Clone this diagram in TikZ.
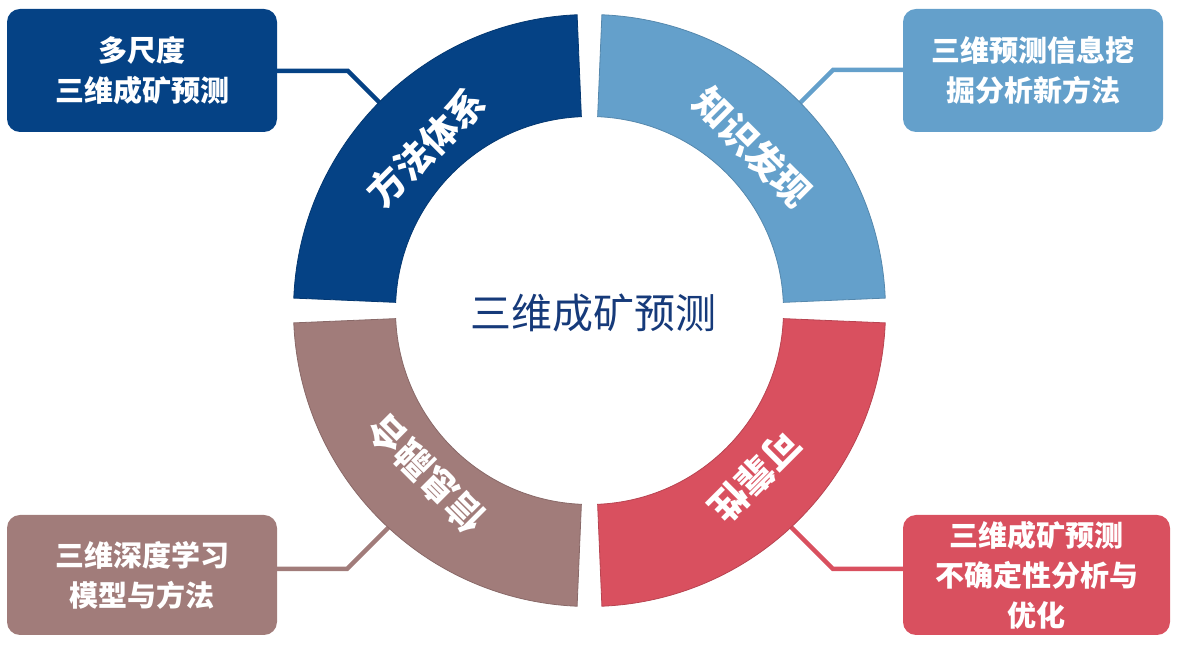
\documentclass[tikz,border=0pt]{standalone}
\usepackage{fontspec}
\newfontfamily\cjk{Noto Sans CJK SC}
\definecolor{cA}{RGB}{5,66,133}
\definecolor{cB}{RGB}{100,160,203}
\definecolor{cC}{RGB}{217,80,95}
\definecolor{cD}{RGB}{161,124,122}
\definecolor{ctitle}{RGB}{22,58,122}
\begin{document}
\begin{tikzpicture}[x=1pt,y=1pt,
  box/.style={rounded corners=13pt, inner sep=0pt, align=center, text=white,
    font=\cjk\bfseries\fontsize{29}{40}\selectfont},
  link/.style={line width=4.5pt, line join=miter},
  segtext/.style={text=white, font=\cjk\bfseries\fontsize{37}{40}\selectfont, inner sep=0pt},
  seg/.style={line width=0.8pt}]
\useasboundingbox (0,0) rectangle (1181,647);
\coordinate (C) at (589.5,336.5);

% boxes
\node[box, fill=cA, minimum width=270pt, minimum height=123pt] (tl) at (142,576.5) {多尺度\\三维成矿预测};
\node[box, fill=cB, minimum width=260pt, minimum height=123pt] (tr) at (1033,576.5) {三维预测信息挖\\掘分析新方法};
\node[box, fill=cD, minimum width=270pt, minimum height=120pt] (bl) at (142,72) {三维深度学习\\模型与方法};
\node[box, fill=cC, minimum width=267pt, minimum height=120pt] (br) at (1036.5,72) {三维成矿预测\\不确定性分析与\\优化};

% connector bends and ends
\coordinate (tlk) at (348,576);
\coordinate (tle) at (393,531);
\coordinate (trk) at (833,577);
\coordinate (tre) at (788,532);
\coordinate (blk) at (347,78);
\coordinate (ble) at (392,123);
\coordinate (brk) at (833,78);
\coordinate (bre) at (788,123);

\draw[link, cA] (tlk -| tl.east) -- (tlk) -- (tle);
\draw[link, cB] (trk -| tr.west) -- (trk) -- (tre);
\draw[link, cD] (blk -| bl.east) -- (blk) -- (ble);
\draw[link, cC] (brk -| br.west) -- (brk) -- (bre);

% ring segments
\begin{scope}[shift={(C)}]
\filldraw[seg, fill=cA, draw=cA!85!black] (92.4:296) arc[start angle=92.4, end angle=177.6, radius=296]
  -- (177.6:194) arc[start angle=177.6, end angle=92.4, radius=194] -- cycle;
\filldraw[seg, fill=cB, draw=cB!85!black] (2.4:296) arc[start angle=2.4, end angle=87.6, radius=296]
  -- (87.6:194) arc[start angle=87.6, end angle=2.4, radius=194] -- cycle;
\filldraw[seg, fill=cC, draw=cC!85!black] (-87.6:296) arc[start angle=-87.6, end angle=-2.4, radius=296]
  -- (-2.4:194) arc[start angle=-2.4, end angle=-87.6, radius=194] -- cycle;
\filldraw[seg, fill=cD, draw=cD!85!black] (182.4:296) arc[start angle=182.4, end angle=267.6, radius=296]
  -- (267.6:194) arc[start angle=267.6, end angle=182.4, radius=194] -- cycle;

\node[segtext, rotate=45] (sA) at (135:231) {方法体系};
\node[segtext, rotate=-45] (sB) at (45:231) {知识发现};
\node[segtext, rotate=-135] (sC) at (-45:235) {可靠性};
\node[segtext, rotate=135] (sD) at (225:231) {信息融合};
\end{scope}

\node[text=ctitle, font=\cjk\fontsize{41}{44}\selectfont, inner sep=0pt] (title) at (593,334) {三维成矿预测};
\end{tikzpicture}
\end{document}
